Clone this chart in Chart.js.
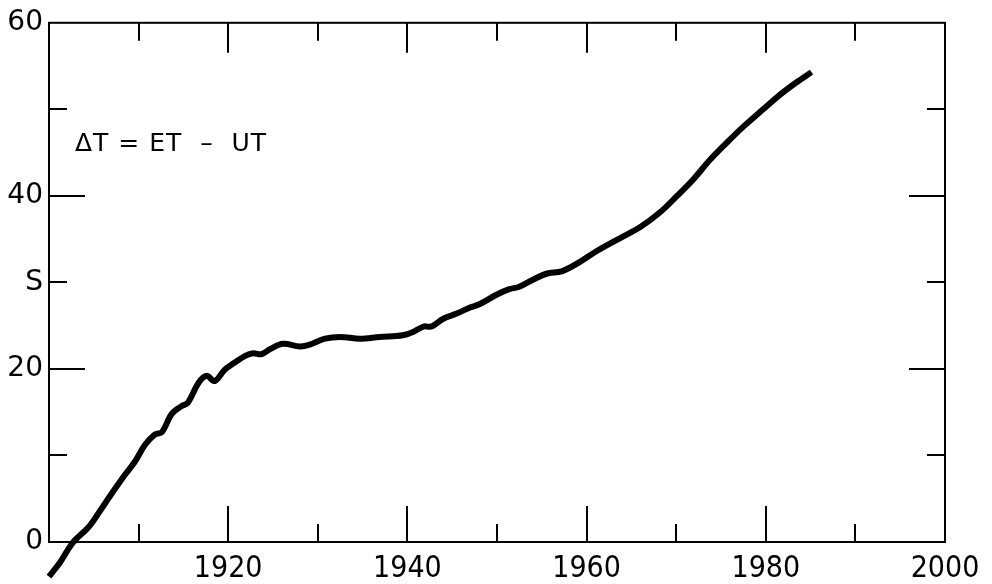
<!DOCTYPE html>
<html>
<head>
<meta charset="utf-8">
<script src="https://cdn.jsdelivr.net/npm/chart.js@4/dist/chart.umd.min.js"></script>
<style>
  html, body { margin: 0; padding: 0; background: #fff; }
  canvas { display: block; }
</style>
</head>
<body>
<canvas id="deltaT" width="992" height="584"></canvas>
<script>
// Delta T = ET - UT, seconds
const years = [1900, 1901.2, 1902.1, 1902.8, 1904.4, 1905.5, 1907, 1908.5, 1909.6, 1910.7,
    1911.8, 1912.6, 1913.7, 1914.8, 1915.5, 1916.7, 1917.6, 1918.5, 1919.6, 1920.4,
    1921.9, 1922.8, 1923.7, 1924.7, 1926.1, 1928, 1929.1, 1930.8, 1932.5, 1934.7,
    1936.9, 1939.5, 1940.7, 1941.8, 1942.7, 1944, 1945.5, 1947, 1948.1, 1950,
    1951.3, 1952.5, 1954, 1955.5, 1957.3, 1959.3, 1961.1, 1963.7, 1966, 1968.2,
    1970.1, 1971.9, 1973.8, 1975.6, 1977.5, 1979.7, 1981.6, 1983.4, 1985.1];
const deltaT = [-4.0, -2.4, -0.9, 0.1, 1.7, 3.3, 5.6, 7.8, 9.3, 11.2,
    12.4, 12.7, 14.8, 15.7, 16.1, 18.4, 19.2, 18.6, 19.9, 20.5,
    21.5, 21.8, 21.7, 22.3, 22.9, 22.6, 22.8, 23.5, 23.7, 23.5,
    23.7, 23.9, 24.3, 24.9, 24.9, 25.8, 26.4, 27.1, 27.5, 28.6,
    29.2, 29.5, 30.3, 31.0, 31.3, 32.4, 33.6, 35.1, 36.4, 38.1,
    40.0, 41.9, 44.2, 46.1, 48.0, 50.0, 51.7, 53.1, 54.3];

const xLabelYears = [1920, 1940, 1960, 1980, 2000];
const yLabelValues = [0, 20, 40, 60];
const yUnitValue = 30;
const yUnitLabel = 'S';
const formulaText = 'ΔT = ET  –  UT';

const points = years.map(function (yr, i) {
    return { x: yr, y: deltaT[i] };
});

// frame with inward tick marks on all four sides
const frameTicks = {
    id: 'frameTicks',
    afterDraw: function (chart) {
        const ctx = chart.ctx;
        const area = chart.chartArea;
        const xs = chart.scales.x;
        const ys = chart.scales.y;
        ctx.save();
        ctx.strokeStyle = '#000';
        ctx.lineWidth = 2;
        ctx.strokeRect(area.left, area.top, area.right - area.left, area.bottom - area.top);
        ctx.beginPath();
        xs.ticks.forEach(function (t) {
            if (t.value <= xs.min || t.value >= xs.max) return;
            const px = Math.round(xs.getPixelForValue(t.value));
            const major = t.value % 20 === 0;
            ctx.moveTo(px, area.bottom);
            ctx.lineTo(px, area.bottom - (major ? 36 : 18));
            ctx.moveTo(px, area.top);
            ctx.lineTo(px, area.top + (major ? 30 : 18));
        });
        ys.ticks.forEach(function (t) {
            if (t.value <= ys.min || t.value >= ys.max) return;
            const py = Math.round(ys.getPixelForValue(t.value));
            const major = t.value % 20 === 0;
            ctx.moveTo(area.left, py);
            ctx.lineTo(area.left + (major ? 36 : 18), py);
            ctx.moveTo(area.right, py);
            ctx.lineTo(area.right - (major ? 36 : 18), py);
        });
        ctx.stroke();
        // formula label
        ctx.fillStyle = '#000';
        ctx.font = '25px "DejaVu Sans"';
        ctx.letterSpacing = '1px';
        ctx.textBaseline = 'middle';
        ctx.textAlign = 'left';
        ctx.fillText(formulaText, area.left + 26, area.top + 122);
        ctx.restore();
    }
};

new Chart(document.getElementById('deltaT').getContext('2d'), {
    type: 'line',
    data: {
        datasets: [{
            data: points,
            borderColor: '#000',
            borderWidth: 6,
            pointRadius: 0,
            tension: 0.35,
            fill: false,
            clip: false
        }]
    },
    options: {
        responsive: false,
        animation: false,
        devicePixelRatio: 1,
        layout: {
            padding: { top: 14, right: 47, left: 0, bottom: 0 }
        },
        scales: {
            x: {
                type: 'linear',
                min: 1900,
                max: 2000,
                afterFit: function (scale) { scale.height = 42; },
                grid: { display: false, drawTicks: false },
                border: { display: false },
                ticks: {
                    stepSize: 10,
                    autoSkip: false,
                    maxRotation: 0,
                    padding: 9,
                    color: '#000',
                    font: { family: '"Liberation Sans Narrow", "DejaVu Sans Condensed", sans-serif', size: 30 },
                    callback: function (value) {
                        return xLabelYears.indexOf(value) >= 0 ? String(value) : '';
                    }
                }
            },
            y: {
                min: 0,
                max: 60,
                afterFit: function (scale) { scale.width = 49; },
                grid: { display: false, drawTicks: false },
                border: { display: false },
                ticks: {
                    stepSize: 10,
                    autoSkip: false,
                    padding: 6,
                    color: '#000',
                    font: { family: '"DejaVu Sans"', size: 28 },
                    callback: function (value) {
                        if (value === yUnitValue) return yUnitLabel;
                        return yLabelValues.indexOf(value) >= 0 ? String(value) : '';
                    }
                }
            }
        },
        plugins: {
            legend: { display: false },
            tooltip: { enabled: false }
        }
    },
    plugins: [frameTicks]
});
</script>
</body>
</html>
